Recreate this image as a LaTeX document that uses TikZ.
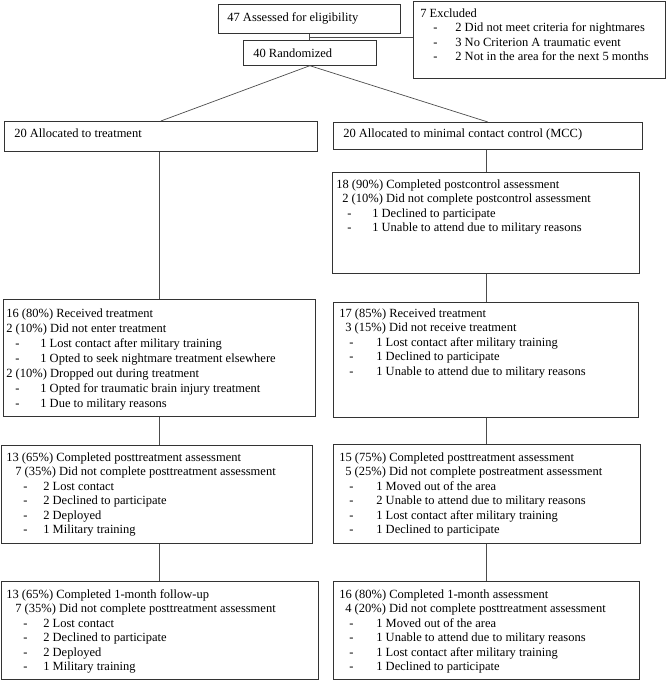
\documentclass[tikz,border=0pt]{standalone}
\usepackage{fontspec}
\setmainfont{Liberation Serif}
\newlength\mainin
\newlength\dashin
\newlength\textin
% #1 baselineskip, #2 width, #3 height, #4 first baseline, #5 lines
\newcommand{\boxcell}[5][14.5pt]{\begin{minipage}[t][#3][t]{#2}\fontsize{12.5}{#1}\selectfont\raggedright\leavevmode\rule{0pt}{#4}#5\end{minipage}}
\newcommand{\mainline}[2][0pt]{\hspace*{\dimexpr\mainin+#1\relax}#2\par}
\newcommand{\subline}[1]{\hspace*{\dashin}\makebox[\dimexpr\textin-\dashin\relax][l]{-}#1\par}
\tikzset{
  box/.style={draw=black!80, line width=0.7pt, anchor=north west, inner sep=0pt},
  indents/.style n args={3}{execute at begin node={\setlength{\mainin}{#1}\setlength{\dashin}{#2}\setlength{\textin}{#3}}},
  link/.style={draw=black!70, line width=0.7pt}
}
\begin{document}
\begin{tikzpicture}[x=1pt,y=-1pt]
\useasboundingbox (0,0) rectangle (668,680);
% top
\node[box,indents={9pt}{0pt}{0pt}] (assess) at (218,4)
  {\boxcell{182pt}{29pt}{17pt}{\mainline{47 Assessed for eligibility}}};
\node[box,indents={7pt}{20pt}{42pt}] (excl) at (413,1)
  {\boxcell{252pt}{77pt}{16pt}{%
    \mainline{7 Excluded}
    \subline{2 Did not meet criteria for nightmares}
    \subline{3 No Criterion A traumatic event}
    \subline{2 Not in the area for the next 5 months}}};
\node[box,indents={10pt}{0pt}{0pt}] (rand) at (243,40)
  {\boxcell{133pt}{25pt}{17pt}{\mainline{40 Randomized}}};
% treatment arm
\node[box,indents={10pt}{0pt}{0pt}] (allocL) at (4,121)
  {\boxcell{313pt}{30pt}{16pt}{\mainline{20 Allocated to treatment}}};
\node[box,indents={3pt}{12pt}{37pt}] (recvL) at (3,299)
  {\boxcell[15pt]{312pt}{117pt}{18pt}{%
    \mainline{16 (80\%) Received treatment}
    \mainline{2 (10\%) Did not enter treatment}
    \subline{1 Lost contact after military training}
    \subline{1 Opted to seek nightmare treatment elsewhere}
    \mainline{2 (10\%) Dropped out during treatment}
    \subline{1 Opted for traumatic brain injury treatment}
    \subline{1 Due to military reasons}}};
\node[box,indents={5pt}{22pt}{42pt}] (postL) at (1,445)
  {\boxcell{311pt}{98pt}{16pt}{%
    \mainline{13 (65\%) Completed posttreatment assessment}
    \mainline[9pt]{7 (35\%) Did not complete posttreatment assessment}
    \subline{2 Lost contact}
    \subline{2 Declined to participate}
    \subline{2 Deployed}
    \subline{1 Military training}}};
\node[box,indents={5pt}{22pt}{42pt}] (followL) at (1,581)
  {\boxcell{317pt}{98pt}{17pt}{%
    \mainline{13 (65\%) Completed 1-month follow-up}
    \mainline[9pt]{7 (35\%) Did not complete posttreatment assessment}
    \subline{2 Lost contact}
    \subline{2 Declined to participate}
    \subline{2 Deployed}
    \subline{1 Military training}}};
% control arm
\node[box,indents={10pt}{0pt}{0pt}] (allocR) at (333,122)
  {\boxcell{309pt}{27pt}{15pt}{\mainline{20 Allocated to minimal contact control (MCC)}}};
\node[box,indents={4pt}{15pt}{40pt}] (ctrlR) at (332,172)
  {\boxcell{307pt}{101pt}{16pt}{%
    \mainline{18 (90\%) Completed postcontrol assessment}
    \mainline[6pt]{2 (10\%) Did not complete postcontrol assessment}
    \subline{1 Declined to participate}
    \subline{1 Unable to attend due to military reasons}}};
\node[box,indents={6pt}{16pt}{43pt}] (recvR) at (333,302)
  {\boxcell{305pt}{115pt}{15pt}{%
    \mainline{17 (85\%) Received treatment}
    \mainline[6pt]{3 (15\%) Did not receive treatment}
    \subline{1 Lost contact after military training}
    \subline{1 Declined to participate}
    \subline{1 Unable to attend due to military reasons}}};
\node[box,indents={6pt}{16pt}{43pt}] (postR) at (333,444)
  {\boxcell{307pt}{99pt}{17pt}{%
    \mainline{15 (75\%) Completed posttreatment assessment}
    \mainline[6pt]{5 (25\%) Did not complete postreatment assessment}
    \subline{1 Moved out of the area}
    \subline{2 Unable to attend due to military reasons}
    \subline{1 Lost contact after military training}
    \subline{1 Declined to participate}}};
\node[box,indents={6pt}{16pt}{43pt}] (followR) at (333,581)
  {\boxcell{306pt}{98pt}{17pt}{%
    \mainline{16 (80\%) Completed 1-month assessment}
    \mainline[6pt]{4 (20\%) Did not complete posttreatment assessment}
    \subline{1 Moved out of the area}
    \subline{1 Unable to attend due to military reasons}
    \subline{1 Lost contact after military training}
    \subline{1 Declined to participate}}};
% connectors
\draw[link] (assess.south) -- coordinate (split) (assess.south |- rand.north);
\draw[link] (split) -- (split -| excl.west);
\draw[link] (rand.south) -- (allocL.north);
\draw[link] (rand.south) -- (allocR.north);
\foreach \a/\b in {allocL/recvL,recvL/postL,postL/followL}
  \draw[link] (\a.south -| recvL.south) -- (\b.north -| recvL.south);
\foreach \a/\b in {allocR/ctrlR,ctrlR/recvR,recvR/postR,postR/followR}
  \draw[link] (\a.south -| ctrlR.south) -- (\b.north -| ctrlR.south);
\end{tikzpicture}
\end{document}
